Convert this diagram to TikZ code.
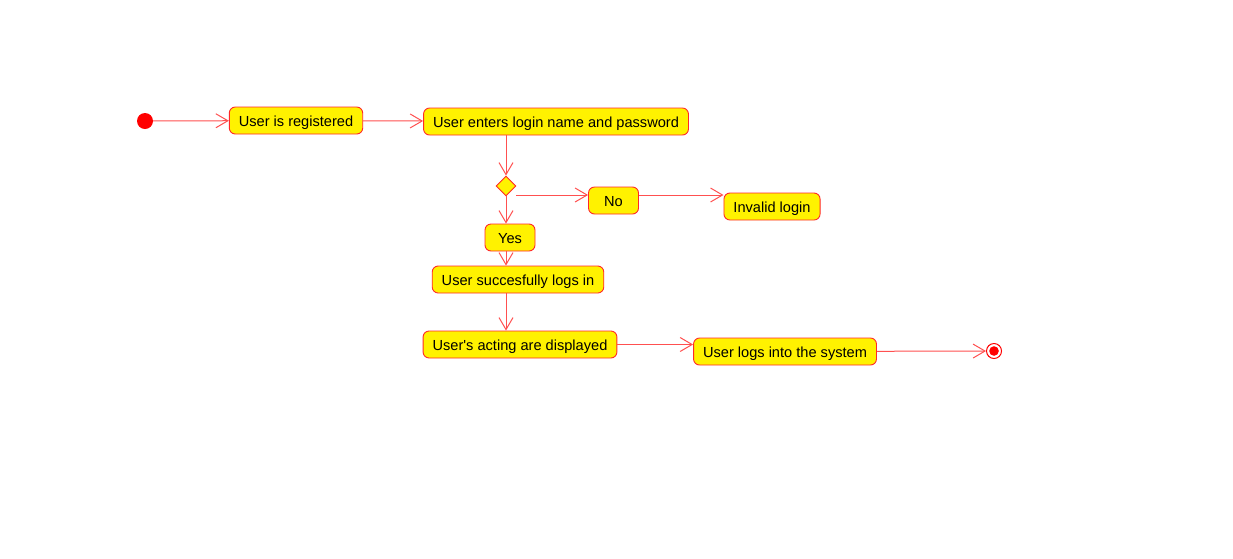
\documentclass[tikz,border=0pt]{standalone}
\usepackage{fontspec}
\setmainfont{Liberation Sans}
\usetikzlibrary{arrows.meta,shapes.geometric}
\definecolor{boxred}{RGB}{255,40,40}
\definecolor{linered}{RGB}{255,80,80}

\begin{document}
\begin{tikzpicture}[x=1pt, y=-1pt,
	every node/.style={font=\fontsize{14.6}{16}\selectfont},
	act/.style={rectangle, rounded corners=6pt, draw=boxred, fill=yellow, line width=0.9pt, minimum height=27pt, minimum width=50pt, inner xsep=9.5pt, text height=11pt, text depth=0pt},
	decision/.style={diamond, draw=boxred, fill=yellow, line width=0.9pt, minimum size=20pt, inner sep=0pt},
	initstate/.style={circle, fill=red, minimum size=16pt, inner sep=0pt},
	finalstate/.style={circle, draw=red, fill=white, line width=1pt, minimum size=15pt, inner sep=0pt,
		path picture={\fill[red] (path picture bounding box.center) circle (4.8pt);}},
	flow/.style={draw=linered, line width=1pt, -{Straight Barb[length=12pt, width=14pt, line width=1pt]}}]
	\useasboundingbox (0,0) rectangle (1233,558);

	\node[initstate] (init) at (145,121){};
	\node[act] (reg) at (296,120.5){User is registered};
	\node[act] (enter) at (556,121.5){User enters login name and password};
	\node[decision] (dec) at (506,186){};
	\node[act] (no) at (613.5,200.5){No};
	\node[act] (invalid) at (772,206.5){Invalid login};
	\node[act] (yes) at (510,237.5){Yes};
	\node[act] (succ) at (518,279.5){User succesfully logs in};
	\node[act] (disp) at (520,344.5){User\textquotesingle s acting are displayed};
	\node[act] (logs) at (785,351.5){User logs into the system};
	\node[finalstate] (final) at (994,351){};

	\path[flow] (init) edge (reg);
	\path[flow] (reg) edge (enter);
	\draw[flow] (enter.south -| dec) -- (dec.north);
	\draw[flow] ([yshift=-9pt]dec.east) coordinate (d1) -- (d1 -| no.west);
	\draw[flow] ([yshift=5.5pt]no.east) coordinate (n1) -- (n1 -| invalid.west);
	\draw[flow] (dec.south) -- (dec.south |- yes.north);
	\draw[flow] (yes.south -| dec) -- (dec |- succ.north);
	\draw[flow] (succ.south -| dec) -- (dec |- disp.north);
	\draw[flow] (disp.east) -- (disp.east -| logs.west);
	\path[flow] (logs) edge (final);
\end{tikzpicture}
\end{document}
